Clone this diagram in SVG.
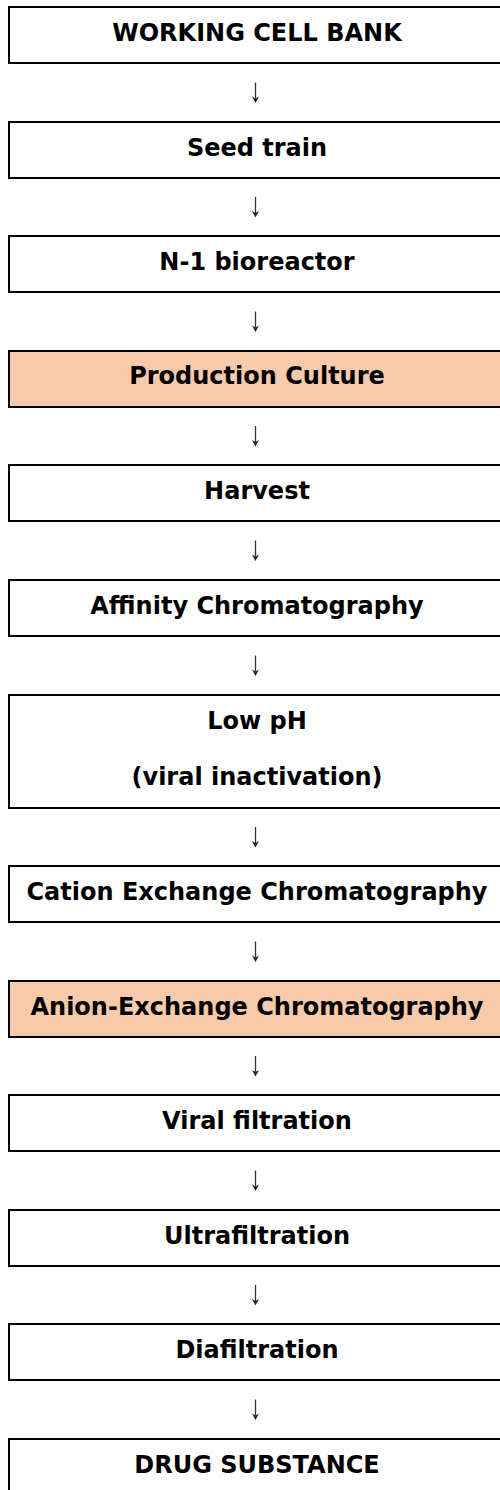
<svg xmlns="http://www.w3.org/2000/svg" xmlns:xlink="http://www.w3.org/1999/xlink" width="500" height="1490" viewBox="0 0 500 1490">
<style>
  .box { fill: #ffffff; stroke: #000000; stroke-width: 2; }
  .hl { fill: #F7CAAC; stroke: #000000; stroke-width: 2; }
  .lbl { font-family: "DejaVu Sans", Verdana, sans-serif; font-weight: bold; font-size: 24px; fill: #000000; text-anchor: middle; }
  .shaft { stroke: #333333; stroke-width: 1.3; fill: none; }
  .head { fill: #222222; stroke: none; }
</style>
<defs>
  <g id="dn">
    <line class="shaft" x1="255.5" y1="-10" x2="255.5" y2="6"/>
    <path class="head" d="M252,4 L255.5,6 L259,4 L255.5,10.5 Z"/>
  </g>
</defs>
<rect x="0" y="0" width="500" height="1490" fill="#ffffff"/>
<g id="connectors">
  <use xlink:href="#dn" href="#dn" y="92.5"/>
  <use xlink:href="#dn" href="#dn" y="207"/>
  <use xlink:href="#dn" href="#dn" y="321.5"/>
  <use xlink:href="#dn" href="#dn" y="436"/>
  <use xlink:href="#dn" href="#dn" y="550.5"/>
  <use xlink:href="#dn" href="#dn" y="665.5"/>
  <use xlink:href="#dn" href="#dn" y="837"/>
  <use xlink:href="#dn" href="#dn" y="951.5"/>
  <use xlink:href="#dn" href="#dn" y="1066"/>
  <use xlink:href="#dn" href="#dn" y="1180.5"/>
  <use xlink:href="#dn" href="#dn" y="1295"/>
  <use xlink:href="#dn" href="#dn" y="1409.5"/>
</g>
<g id="n1"><rect class="box" x="9" y="7" width="500" height="56"/><text class="lbl" x="257" y="40.5">WORKING CELL BANK</text></g>
<g id="n2"><rect class="box" x="9" y="122" width="500" height="56"/><text class="lbl" x="257" y="155.5">Seed train</text></g>
<g id="n3"><rect class="box" x="9" y="236" width="500" height="56"/><text class="lbl" x="257" y="269.5">N-1 bioreactor</text></g>
<g id="n4"><rect class="hl" x="9" y="351" width="500" height="56"/><text class="lbl" x="257" y="384">Production Culture</text></g>
<g id="n5"><rect class="box" x="9" y="465" width="500" height="56"/><text class="lbl" x="257" y="498.5">Harvest</text></g>
<g id="n6"><rect class="box" x="9" y="580" width="500" height="56"/><text class="lbl" x="257" y="613.5">Affinity Chromatography</text></g>
<g id="n7"><rect class="box" x="9" y="695" width="500" height="113"/><text class="lbl" x="257" y="729">Low pH</text><text class="lbl" x="257" y="785">(viral inactivation)</text></g>
<g id="n8"><rect class="box" x="9" y="866" width="500" height="56"/><text class="lbl" x="257" y="899.5">Cation Exchange Chromatography</text></g>
<g id="n9"><rect class="hl" x="9" y="981" width="500" height="56"/><text class="lbl" x="257" y="1014.5">Anion-Exchange Chromatography</text></g>
<g id="n10"><rect class="box" x="9" y="1095" width="500" height="56"/><text class="lbl" x="257" y="1128.5">Viral filtration</text></g>
<g id="n11"><rect class="box" x="9" y="1210" width="500" height="56"/><text class="lbl" x="257" y="1243.5">Ultrafiltration</text></g>
<g id="n12"><rect class="box" x="9" y="1324" width="500" height="56"/><text class="lbl" x="257" y="1357.5">Diafiltration</text></g>
<g id="n13"><rect class="box" x="9" y="1439" width="500" height="80"/><text class="lbl" x="257" y="1472.5">DRUG SUBSTANCE</text></g>
</svg>
